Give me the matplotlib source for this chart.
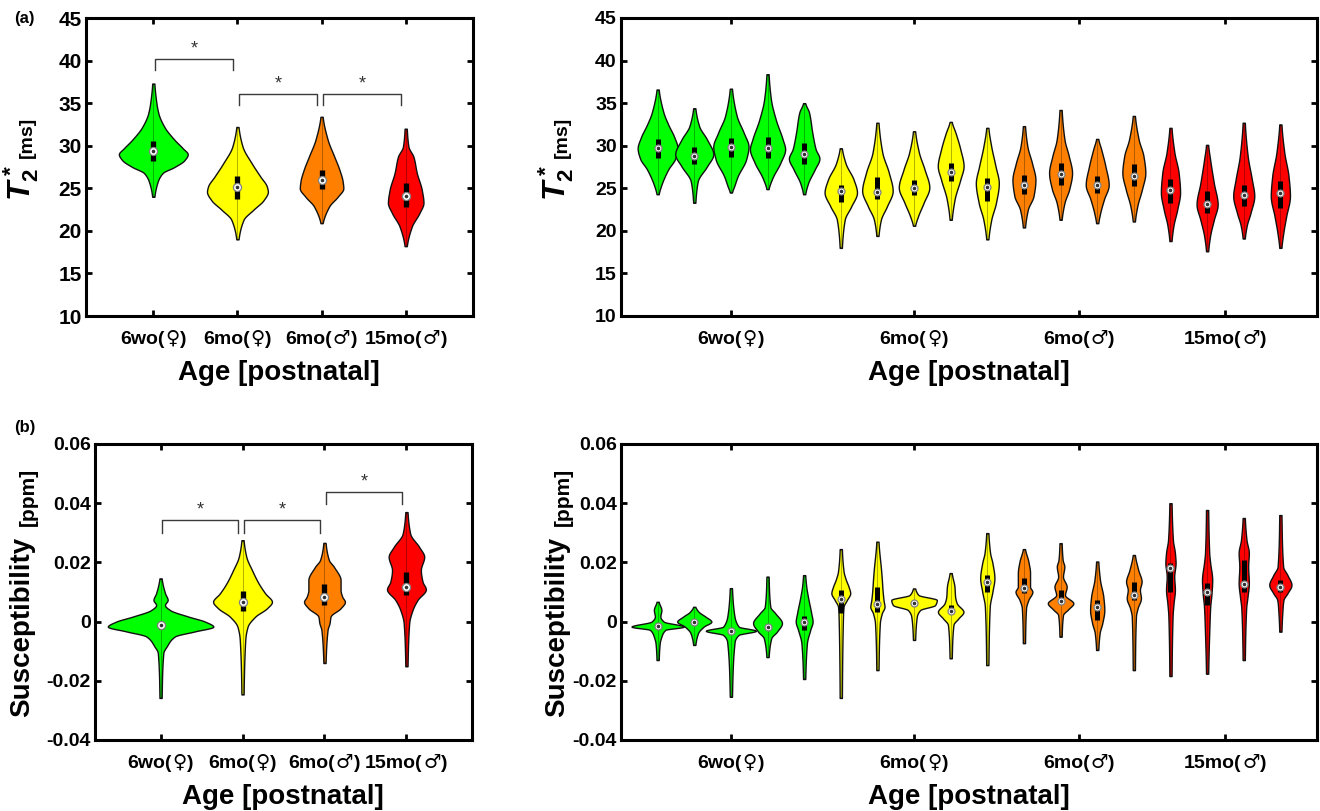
import numpy as np
import matplotlib
matplotlib.use("Agg")
import matplotlib.pyplot as plt
from matplotlib.offsetbox import TextArea, HPacker, AnnotationBbox

plt.rcParams['font.family'] = ['Liberation Sans', 'DejaVu Sans']
plt.rcParams['font.weight'] = 'bold'
plt.rcParams['mathtext.fontset'] = 'custom'
plt.rcParams['mathtext.rm'] = 'Liberation Sans:bold'
plt.rcParams['mathtext.it'] = 'Liberation Sans:bold:italic'
plt.rcParams['mathtext.bf'] = 'Liberation Sans:bold'

# ---------------- data ----------------
group_names = ['6wo', '6mo', '6mo', '15mo']
group_sex = ['♀', '♀', '♂', '♂']
group_colors = ['#00FF00', '#FFFF00', '#FF8000', '#FF0000']
animal_groups = [0]*5 + [1]*5 + [2]*4 + [3]*4
animal_tick_pos = [3, 8, 12.5, 16.5]

# (a) left: T2* per group
t2g_med = [29.4, 25.2, 26.0, 24.1]
t2g_q1 = [28.2, 23.8, 24.9, 22.8]
t2g_q3 = [30.5, 26.4, 27.2, 25.6]
t2g_y = [
    [24.0, 25.8, 26.8, 27.5, 28.3, 29.0, 29.7, 30.7, 32.2, 33.8, 35.3, 37.3],
    [19.0, 21.3, 22.5, 23.6, 24.6, 25.2, 26.4, 27.9, 29.9, 32.2],
    [20.9, 22.9, 24.0, 25.0, 25.8, 27.2, 28.7, 30.7, 33.4],
    [18.2, 20.5, 22.1, 23.3, 24.8, 26.8, 28.7, 29.9, 32.0],
]
t2g_w = [
    [0, 10, 25, 60, 90, 100, 85, 60, 30, 12, 5, 0],
    [0, 15, 45, 75, 88, 85, 65, 40, 12, 0],
    [0, 20, 45, 62, 60, 50, 35, 15, 0],
    [0, 15, 38, 50, 45, 30, 20, 5, 0],
]
t2_sig = [(1, 2, 40.2, 38.9), (2, 3, 36.1, 34.8), (3, 4, 36.1, 34.8)]

# (a) right: T2* per animal
t2a_med = [29.7, 28.8, 29.8, 29.7, 29.0, 24.7, 24.6, 25.0, 26.9, 25.1,
           25.4, 26.7, 25.4, 26.4, 24.8, 23.2, 24.2, 24.4]
t2a_q1 = [28.6, 27.9, 28.7, 28.6, 27.9, 23.4, 23.7, 24.2, 25.8, 23.5,
          24.3, 25.4, 24.5, 25.3, 23.3, 22.1, 22.9, 22.7]
t2a_q3 = [30.8, 29.9, 30.9, 31.0, 30.3, 25.4, 26.3, 26.0, 28.0, 26.2,
          26.6, 28.0, 26.4, 27.8, 26.1, 24.7, 25.4, 25.9]
t2a_y = [
    [24.3, 25.3, 27.2, 28.5, 29.7, 31.0, 32.5, 33.9, 36.6],
    [23.3, 25.8, 27.6, 29.0, 30.7, 32.3, 34.4],
    [24.5, 25.3, 26.4, 28.4, 29.9, 31.5, 33.5, 36.7],
    [24.9, 26.2, 28.0, 29.6, 30.7, 33.1, 35.4, 38.4],
    [24.3, 25.6, 27.2, 28.5, 29.6, 31.5, 33.9, 35.0],
    [18.0, 21.3, 22.9, 24.5, 26.0, 27.9, 29.7],
    [19.4, 21.3, 22.9, 24.7, 26.8, 29.2, 32.7],
    [20.6, 21.7, 23.3, 25.1, 27.2, 29.2, 31.7],
    [21.3, 23.7, 26.0, 27.6, 29.6, 31.5, 32.8],
    [19.0, 21.3, 23.3, 25.6, 27.6, 29.9, 32.1],
    [20.4, 22.5, 24.1, 26.0, 27.9, 29.9, 32.3],
    [21.3, 23.3, 24.9, 26.8, 28.8, 30.7, 34.2],
    [20.9, 22.1, 23.7, 25.4, 27.6, 29.6, 30.8],
    [21.1, 22.9, 24.9, 26.8, 28.8, 30.7, 33.5],
    [18.8, 20.6, 22.5, 24.5, 26.8, 29.2, 32.1],
    [17.6, 19.4, 21.3, 23.1, 25.6, 28.4, 30.1],
    [19.1, 20.6, 22.1, 24.1, 26.0, 28.8, 32.7],
    [18.0, 19.8, 21.7, 24.1, 26.4, 29.2, 32.5],
]
t2a_w = [
    [0, 5, 20, 35, 40, 33, 20, 10, 0],
    [0, 5, 25, 38, 25, 8, 0],
    [0, 5, 12, 30, 35, 25, 10, 0],
    [0, 8, 25, 35, 30, 15, 5, 0],
    [0, 6, 20, 30, 22, 15, 8, 0],
    [0, 6, 20, 32, 25, 8, 0],
    [0, 5, 18, 30, 22, 8, 0],
    [0, 6, 18, 30, 20, 8, 0],
    [0, 6, 18, 25, 18, 8, 0],
    [0, 6, 16, 22, 15, 6, 0],
    [0, 6, 18, 22, 15, 5, 0],
    [0, 6, 16, 22, 15, 6, 0],
    [0, 4, 12, 22, 15, 6, 0],
    [0, 5, 15, 22, 18, 8, 0],
    [0, 4, 12, 18, 15, 6, 0],
    [0, 4, 12, 20, 12, 4, 0],
    [0, 4, 12, 20, 15, 6, 0],
    [0, 4, 10, 18, 15, 6, 0],
]

# (b) left: susceptibility per group
chig_med = [-0.0013, 0.0067, 0.0084, 0.0118]
chig_q1 = [-0.0026, 0.0037, 0.0056, 0.0090]
chig_q3 = [-0.0003, 0.0104, 0.0126, 0.0168]
chig_y = [
    [-0.0258, -0.0106, -0.0084, -0.005, -0.0033, -0.0017, 0.0, 0.0017, 0.0039, 0.0056, 0.0073, 0.0096, 0.0146],
    [-0.0246, -0.0061, -0.0017, 0.0017, 0.0045, 0.0067, 0.0095, 0.0129, 0.0174, 0.0219, 0.0275],
    [-0.0140, -0.0028, -0.0005, 0.0017, 0.0045, 0.0067, 0.0084, 0.0107, 0.0140, 0.0185, 0.0208, 0.0266],
    [-0.0151, -0.0005, 0.0039, 0.0073, 0.0109, 0.0135, 0.0174, 0.0219, 0.0252, 0.0297, 0.0370],
]
chig_w = [
    [0, 5, 15, 40, 100, 155, 130, 80, 25, 10, 18, 10, 0],
    [0, 5, 12, 35, 70, 85, 65, 45, 25, 8, 0],
    [0, 6, 12, 15, 45, 58, 50, 45, 45, 25, 10, 0],
    [0, 5, 15, 30, 55, 45, 40, 50, 35, 8, 0],
]
chi_sig = [(1, 2, 0.0343, 0.0299), (2, 3, 0.0343, 0.0299), (3, 4, 0.0438, 0.0397)]

# (b) right: susceptibility per animal
chia_med = [-0.0015, -0.0002, -0.0032, -0.0017, -0.0002, 0.0076, 0.0060, 0.0062, 0.0037, 0.0135,
            0.0112, 0.0070, 0.0048, 0.0090, 0.0180, 0.0100, 0.0128, 0.0118]
chia_q1 = [-0.0020, -0.0010, -0.0038, -0.0025, -0.0028, 0.0028, 0.0033, 0.0058, 0.0028, 0.0101,
           0.0095, 0.0062, 0.0005, 0.0073, 0.0101, 0.0056, 0.0101, 0.0101]
chia_q3 = [-0.0008, 0.0005, -0.0025, -0.0008, 0.0020, 0.0107, 0.0118, 0.0068, 0.0055, 0.0158,
           0.0146, 0.0107, 0.0073, 0.0135, 0.0198, 0.0130, 0.0208, 0.0141]
chia_y = [
    [-0.0130, -0.0073, -0.0051, -0.0028, -0.0017, 0.0000, 0.0017, 0.0039, 0.0067],
    [-0.0079, -0.0039, -0.0017, 0.0000, 0.0017, 0.0033, 0.0050],
    [-0.0254, -0.0068, -0.0045, -0.0031, -0.0017, 0.0028, 0.0113],
    [-0.0120, -0.0056, -0.0034, -0.0005, 0.0028, 0.0050, 0.0152],
    [-0.0194, -0.0073, -0.0028, 0.0000, 0.0028, 0.0084, 0.0118, 0.0157],
    [-0.0258, 0.0005, 0.0050, 0.0073, 0.0096, 0.0118, 0.0141, 0.0170, 0.0245],
    [-0.0164, -0.0005, 0.0028, 0.0050, 0.0073, 0.0107, 0.0141, 0.0170, 0.0270],
    [-0.0062, 0.0017, 0.0039, 0.0056, 0.0073, 0.0090, 0.0112],
    [-0.0124, -0.0011, 0.0011, 0.0033, 0.0062, 0.0084, 0.0118, 0.0164],
    [-0.0147, 0.0050, 0.0101, 0.0147, 0.0198, 0.0232, 0.0299],
    [-0.0073, 0.0045, 0.0073, 0.0101, 0.0118, 0.0164, 0.0203, 0.0245],
    [-0.0051, 0.0022, 0.0042, 0.0062, 0.0090, 0.0118, 0.0152, 0.0186, 0.0208, 0.0265],
    [-0.0096, -0.0039, -0.0005, 0.0039, 0.0084, 0.0141, 0.0203],
    [-0.0164, 0.0017, 0.0045, 0.0079, 0.0107, 0.0135, 0.0174, 0.0225],
    [-0.0184, 0.0017, 0.0062, 0.0107, 0.0152, 0.0198, 0.0232, 0.0276, 0.0400],
    [-0.0176, -0.0005, 0.0050, 0.0096, 0.0141, 0.0198, 0.0232, 0.0377],
    [-0.0130, 0.0045, 0.0084, 0.0130, 0.0186, 0.0232, 0.0276, 0.0350],
    [-0.0034, 0.0039, 0.0073, 0.0096, 0.0124, 0.0157, 0.0186, 0.0360],
]
chia_w = [
    [0, 3, 8, 20, 75, 15, 5, 8, 0],
    [0, 8, 25, 48, 30, 10, 0],
    [0, 8, 20, 72, 20, 6, 0],
    [0, 8, 25, 40, 20, 5, 0],
    [0, 5, 15, 22, 18, 8, 3, 0],
    [0, 3, 5, 15, 25, 20, 12, 5, 0],
    [0, 4, 10, 18, 15, 12, 10, 8, 0],
    [0, 5, 15, 60, 65, 10, 0],
    [0, 5, 20, 35, 15, 10, 8, 0],
    [0, 4, 12, 18, 12, 5, 0],
    [0, 3, 10, 22, 15, 15, 10, 0],
    [0, 4, 20, 35, 10, 15, 4, 8, 3, 0],
    [0, 4, 12, 18, 15, 5, 0],
    [0, 3, 8, 18, 15, 20, 10, 0],
    [0, 3, 6, 10, 8, 12, 10, 4, 0],
    [0, 4, 6, 10, 12, 6, 3, 0],
    [0, 4, 8, 12, 10, 12, 5, 0],
    [0, 3, 6, 18, 30, 18, 5, 0],
]

# ---------------- helpers ----------------
W, H = 1320, 811
fig = plt.figure(figsize=(W / 100, H / 100), dpi=100)


def px_axes(l, t, r, b):
    return fig.add_axes([l / W, 1 - b / H, (r - l) / W, (b - t) / H])


def pchip(x, y, xi):
    x = np.asarray(x, float)
    y = np.asarray(y, float)
    h = np.diff(x)
    d = np.diff(y) / h
    m = np.zeros_like(y)
    for k in range(1, len(y) - 1):
        if d[k - 1] * d[k] > 0:
            w1 = 2 * h[k] + h[k - 1]
            w2 = h[k] + 2 * h[k - 1]
            m[k] = (w1 + w2) / (w1 / d[k - 1] + w2 / d[k])
    m[0] = d[0] * 0.5
    m[-1] = d[-1] * 0.5
    idx = np.clip(np.searchsorted(x, xi) - 1, 0, len(x) - 2)
    t = (xi - x[idx]) / h[idx]
    h00 = 2 * t**3 - 3 * t**2 + 1
    h10 = t**3 - 2 * t**2 + t
    h01 = -2 * t**3 + 3 * t**2
    h11 = t**3 - t**2
    return h00 * y[idx] + h10 * h[idx] * m[idx] + h01 * y[idx + 1] + h11 * h[idx] * m[idx + 1]


def draw_violin(ax, pos, ys, ws, scale_px, color, med, q1, q3, box_lw, ms):
    x0, x1 = ax.get_xlim()
    ppu = ax.get_window_extent().width / (x1 - x0)
    yy = np.linspace(ys[0], ys[-1], 400)
    w = np.clip(pchip(ys, ws, yy), 0, None)
    hw = (w * scale_px + 1.1) / ppu
    ax.fill_betweenx(yy, pos - hw, pos + hw, facecolor=color, edgecolor='#111111',
                     linewidth=1.0, zorder=2)
    ax.vlines(pos, ys[0], ys[-1], color='k', linewidth=0.6, alpha=0.35, zorder=3)
    ax.vlines(pos, q1, q3, color='k', linewidth=box_lw, zorder=4)
    ax.plot(pos, med, 'o', ms=ms, mfc='white', mec='#808080', mew=0.9, zorder=5)
    ax.plot(pos, med, 'o', ms=1.6, color='#333333', zorder=6)


def style_axes(ax, ylim, yticks, yticklabels, ysize):
    ax.set_ylim(*ylim)
    ax.set_yticks(yticks)
    ax.set_yticklabels(yticklabels, fontsize=ysize, fontweight='bold')
    for s in ax.spines.values():
        s.set_linewidth(2.2)
    ax.tick_params(direction='in', top=True, right=True, length=4, width=2, pad=3)


def group_ticklabels(ax, positions, size):
    ax.set_xticks(positions)
    ax.set_xticklabels([])
    for p, nm, sx in zip(positions, group_names, group_sex):
        parts = [
            TextArea(nm + '(', textprops=dict(fontsize=size, fontweight='bold',
                                             family='Liberation Sans')),
            TextArea(sx, textprops=dict(fontsize=size, fontweight='normal',
                                        family='DejaVu Sans')),
            TextArea(')', textprops=dict(fontsize=size, fontweight='bold',
                                         family='Liberation Sans')),
        ]
        box = HPacker(children=parts, sep=0.5, pad=0, align='baseline')
        ab = AnnotationBbox(box, (p, 0), xycoords=('data', 'axes fraction'),
                            xybox=(0, -9), boxcoords='offset points',
                            box_alignment=(0.5, 1), frameon=False, pad=0,
                            annotation_clip=False)
        ax.add_artist(ab)


def brackets(ax, sig, star_off):
    for a, b, ytop, ybot in sig:
        xa, xb = a + 0.02, b - 0.05
        ax.plot([xa, xa, xb, xb], [ybot, ytop, ytop, ybot], color='#3a3a3a', lw=1.0, zorder=3)
        ax.text((xa + xb) / 2, ytop + star_off, '*', ha='center', va='center',
                fontsize=13, color='#333333', fontweight='normal')


# ---------------- axes ----------------
ax_a1 = px_axes(86, 18, 473, 316)
ax_a2 = px_axes(621, 18, 1317, 316)
ax_b1 = px_axes(95, 444, 472, 740)
ax_b2 = px_axes(621, 444, 1317, 740)

for ax in (ax_a1, ax_b1):
    ax.set_xlim(0.2, 4.8)
for ax in (ax_a2, ax_b2):
    ax.set_xlim(0, 19)

t2_ticks = [10, 15, 20, 25, 30, 35, 40, 45]
chi_ticks = [-0.04, -0.02, 0, 0.02, 0.04, 0.06]
chi_lbls = ['-0.04', '-0.02', '0', '0.02', '0.04', '0.06']
style_axes(ax_a1, (10, 45), t2_ticks, [str(v) for v in t2_ticks], 15)
style_axes(ax_a2, (10, 45), t2_ticks, [str(v) for v in t2_ticks], 14)
style_axes(ax_b1, (-0.04, 0.06), chi_ticks, chi_lbls, 14)
style_axes(ax_b2, (-0.04, 0.06), chi_ticks, chi_lbls, 14)

group_ticklabels(ax_a1, [1, 2, 3, 4], 14)
group_ticklabels(ax_b1, [1, 2, 3, 4], 14)
group_ticklabels(ax_a2, animal_tick_pos, 14)
group_ticklabels(ax_b2, animal_tick_pos, 14)

# group violins
for i in range(4):
    draw_violin(ax_a1, i + 1, t2g_y[i], t2g_w[i], 1 / 3, group_colors[i],
                t2g_med[i], t2g_q1[i], t2g_q3[i], 3.8, 5.8)
    draw_violin(ax_b1, i + 1, chig_y[i], chig_w[i], 1 / 3, group_colors[i],
                chig_med[i], chig_q1[i], chig_q3[i], 3.8, 5.8)

# animal violins
for j in range(18):
    c = group_colors[animal_groups[j]]
    draw_violin(ax_a2, j + 1, t2a_y[j], t2a_w[j], 1 / 2.119, c,
                t2a_med[j], t2a_q1[j], t2a_q3[j], 3.6, 5.0)
    draw_violin(ax_b2, j + 1, chia_y[j], chia_w[j], 1 / 3, c,
                chia_med[j], chia_q1[j], chia_q3[j], 3.6, 5.0)

brackets(ax_a1, t2_sig, 1.2)
brackets(ax_b1, chi_sig, 0.0034)

# ---------------- labels ----------------
def ftext(xp, yp, s, **kw):
    fig.text(xp / W, 1 - yp / H, s, **kw)


for xl, yl in [(21, 183), (556, 183)]:
    ftext(xl, yl, r'$T_2^*$', rotation=90, ha='center', va='center', fontsize=23)
for xl, yl in [(27, 137), (562, 137)]:
    ftext(xl, yl, '[ms]', rotation=90, ha='center', va='center', fontsize=14, fontweight='bold')
for xl, yl in [(22, 627), (557, 627)]:
    ftext(xl, yl, 'Susceptibility', rotation=90, ha='center', va='center', fontsize=20,
          fontweight='bold')
for xl, yl in [(28, 497), (563, 497)]:
    ftext(xl, yl, '[ppm]', rotation=90, ha='center', va='center', fontsize=15, fontweight='bold')

for xc, yc in [(279, 373), (969, 373), (283, 797), (969, 797)]:
    ftext(xc, yc, 'Age [postnatal]', ha='center', va='center', fontsize=20, fontweight='bold')

ftext(14, 19, '(a)', ha='left', va='center', fontsize=12, fontweight='bold')
ftext(14, 428, '(b)', ha='left', va='center', fontsize=12, fontweight='bold')

fig.savefig('out.png', dpi=100)
